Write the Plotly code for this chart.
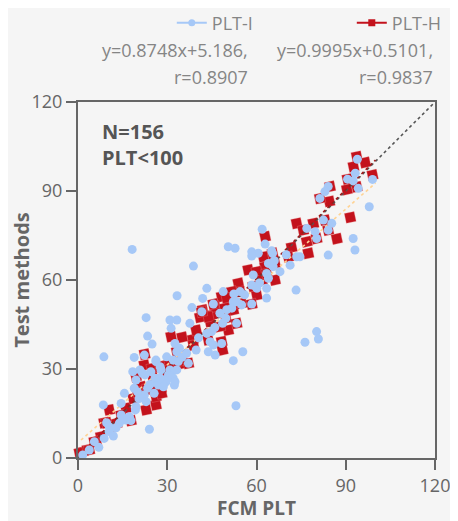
import plotly.graph_objects as go

# ---- data ----
plti_x = [1.6,3.8,5.5,7.0,8.8,10.5,11.9,9.6,10.5,8.5,13.9,14.5,16.1,17.8,14.5,15.6,19.3,18.9,22.3,23.4,24.0,20.0,21.7,26.2,22.9,25.6,19.5,17.3,29.6,27.9,31.3,32.4,26.2,24.5,18.4,19.5,
          18.2,38.8,33.3,41.9,38.3,22.9,30.9,33.2,37.6,31.3,23.4,24.9,8.7,18.9,22.3,26.2,29.8,34.1,39.7,43.3,43.3,
          45.5,48.8,52.4,41.6,47.7,49.7,48.6,44.9,53.3,32.6,44.4,45.5,48.3,43.8,46.1,52.2,33.2,36.5,37.1,32.0,33.7,30.9,33.2,27.6,30.4,32.0,28.7,20.8,22.5,25.9,27.0,28.7,32.6,
          61.9,50.5,52.8,58.4,60.6,58.4,62.9,65.1,65.4,64.0,65.6,67.9,71.3,73.5,63.4,64.0,58.9,58.4,60.1,63.4,63.4,52.2,51.7,53.3,54.5,
          73.3,58.4,55.0,80.2,80.8,76.3,55.4,53.1,
          93.9,93.2,90.6,92.5,94.2,99.0,97.9,85.3,84.1,83.0,81.3,82.5,84.1,79.7,76.9,80.2,74.6,84.1,92.5,93.1,
          12.8,15.2,20.5,24.2,27.5,35.0,40.5,46.0,50.0,56.0,61.0,66.0,70.0]
plti_y = [1.0,2.7,5.5,3.6,6.6,8.9,7.4,11.9,10.5,17.9,11.7,14.5,12.8,12.6,18.4,21.8,16.2,23.5,21.2,23.5,9.7,22.3,28.5,25.7,19.0,21.8,17.3,13.9,25.7,29.7,28.0,24.6,32.5,29.1,29.1,26.3,
          70.3,64.7,54.7,53.8,50.7,47.3,46.5,46.5,45.4,43.7,41.1,38.4,34.1,33.9,34.7,33.0,34.1,37.0,36.4,57.2,42.0,
          51.9,56.1,55.3,49.3,48.8,47.1,45.4,42.6,45.4,38.6,39.2,38.1,38.6,35.8,34.7,32.8,35.8,35.3,31.9,33.0,32.5,29.7,29.7,30.8,28.0,26.9,26.3,29.7,28.0,26.9,24.6,24.0,25.7,
          77.1,71.2,70.7,69.5,69.0,68.1,72.1,69.9,69.0,65.6,64.5,62.8,65.0,67.8,62.2,60.6,61.7,58.3,57.2,57.2,53.9,52.7,50.5,52.7,56.1,
          56.6,51.9,51.6,42.6,40.1,39.0,35.8,17.6,
          100.7,96.0,94.0,93.4,90.9,93.9,84.7,79.1,91.5,89.8,87.5,80.2,76.8,76.3,77.4,74.0,67.8,68.4,74.0,70.1,
          10.2,13.5,20.0,24.8,27.0,34.0,40.5,44.0,50.0,55.0,59.0,66.5,68.5]

plth_x = [1.6,0.5,8.8,7.7,10.5,16.1,19.5,22.9,26.2,22.3,25.1,27.9,22.9,26.2,29.6,30.1,6.1,11.6,21.2,
          31.3,35.0,38.6,41.0,41.9,22.4,39.7,44.4,44.9,48.3,51.7,50.5,47.7,38.8,48.3,48.6,33.2,35.4,24.8,25.3,
          13.0,18.6,28.1,43.8,3.2,
          62.9,71.8,73.5,70.7,62.3,62.9,66.2,66.2,57.2,60.1,61.8,53.9,54.5,51.7,50.0,46.1,43.8,49.4,52.2,55.0,60.1,58.9,
          93.7,96.5,92.6,99.0,90.6,93.7,90.4,84.7,84.5,81.3,79.1,83.0,75.7,87.0,91.5,76.9,77.4,
          3.8,5.5,9.6,14.5,17.8,20.0,23.4,27.6,30.9,33.7,37.1,41.6,45.5,49.7,53.3,58.4,63.4,65.4,80.2,84.1]
plth_y = [2.1,1.7,11.9,7.2,16.2,16.8,27.4,16.2,17.9,31.3,27.4,23.5,22.9,20.7,31.3,28.0,5.5,10.5,24.0,
          40.9,40.7,40.0,47.4,49.9,35.0,43.1,46.0,48.2,54.4,52.1,43.1,44.3,38.1,39.2,36.4,35.8,31.9,30.2,24.0,
          11.7,20.1,21.8,39.8,2.8,
          74.6,71.0,79.1,67.8,67.8,64.5,65.6,60.0,63.4,62.8,60.0,58.9,56.1,56.1,53.9,51.0,47.6,50.5,49.9,52.1,54.9,57.9,
          101.6,99.6,98.2,95.4,94.0,91.4,90.5,91.5,86.5,87.5,79.1,80.2,76.8,73.9,81.1,72.9,69.0,
          2.7,5.5,11.9,14.5,12.6,22.3,23.5,30.8,29.7,32.5,31.9,49.3,51.9,47.1,45.4,51.9,62.2,69.0,74.0,76.8]

fit_names = ["PLT-I", "PLT-H"]
fit_slope = [0.8748, 0.9995]
fit_intercept = [5.186, 0.5101]
fit_r = [0.8907, 0.9837]
fit_range = [1, 100]
identity_range = [0, 120]
tick_vals = [0, 30, 60, 90, 120]

BLUE = "#a6c8f7"
RED = "#c3121c"
FONT = "Open Sans"

fig = go.Figure()

# PLT-H squares
fig.add_trace(go.Scatter(
    x=plth_x, y=plth_y, mode="markers", showlegend=False, cliponaxis=False,
    marker=dict(symbol="square", size=10, color=RED, angle=-12,
                line=dict(color="rgba(240,150,150,0.6)", width=0.5))))

# identity line
fig.add_trace(go.Scatter(
    x=identity_range, y=identity_range, mode="lines", showlegend=False,
    line=dict(color="#555555", width=1.6, dash="dot")))

# regression lines
fx = fit_range
fig.add_trace(go.Scatter(
    x=fx, y=[fit_slope[0] * v + fit_intercept[0] for v in fx], mode="lines", showlegend=False,
    line=dict(color="#ffd394", width=1.6, dash="dot")))
fig.add_trace(go.Scatter(
    x=fx, y=[fit_slope[1] * v + fit_intercept[1] for v in fx], mode="lines", showlegend=False,
    line=dict(color="#9e1a1a", width=1.6, dash="dot")))

# PLT-I circles
fig.add_trace(go.Scatter(
    x=plti_x, y=plti_y, mode="markers", showlegend=False, cliponaxis=False,
    marker=dict(symbol="circle", size=9, color=BLUE, line=dict(width=0))))

# legend entries
fig.add_trace(go.Scatter(
    x=[None], y=[None], mode="lines+markers", name=fit_names[0], legend="legend",
    line=dict(color=BLUE, width=2), marker=dict(symbol="circle", size=7, color=BLUE)))
fig.add_trace(go.Scatter(
    x=[None], y=[None], mode="lines+markers", name=fit_names[1], legend="legend2",
    line=dict(color=RED, width=2), marker=dict(symbol="square", size=7, color=RED)))

ann = []
eq_right = [0.482, 1.0]
for i in range(2):
    ann.append(dict(xref="paper", yref="paper", x=eq_right[i], y=1.146, xanchor="right", yanchor="middle",
                    text=f"y={fit_slope[i]}x+{fit_intercept[i]},", showarrow=False,
                    font=dict(family=FONT, size=18, color="#858585")))
    ann.append(dict(xref="paper", yref="paper", x=eq_right[i], y=1.0702, xanchor="right", yanchor="middle",
                    text=f"r={fit_r[i]}", showarrow=False,
                    font=dict(family=FONT, size=18, color="#858585")))
ann.append(dict(xref="paper", yref="paper", x=0.062, y=0.9185, xanchor="left", yanchor="middle",
                text="<b>N=156</b>", showarrow=False, font=dict(family=FONT, size=20, color="#555555")))
ann.append(dict(xref="paper", yref="paper", x=0.062, y=0.8427, xanchor="left", yanchor="middle",
                text="<b>PLT&lt;100</b>", showarrow=False, font=dict(family=FONT, size=20, color="#555555")))

axis_common = dict(range=[0, 120], tickvals=tick_vals, showgrid=False, zeroline=False,
                   showline=True, linecolor="#666666", linewidth=2, mirror=True,
                   ticks="outside", ticklen=10, tickwidth=1.5, tickcolor="#666666",
                   automargin=False,
                   tickfont=dict(family=FONT, size=18, color="#666666"))

legend_common = dict(orientation="h", xref="container", yref="container", xanchor="left",
                     y=0.9705, yanchor="middle", bgcolor="rgba(0,0,0,0)", itemwidth=30,
                     font=dict(family=FONT, size=18, color="#858585"))

# page body has an 8px margin, so the figure is sized/offset to land on the window
fig.update_layout(
    width=450, height=513,
    margin=dict(l=70, r=23, t=94, b=63, autoexpand=False),
    paper_bgcolor="#f5f5f5", plot_bgcolor="#f5f5f5",
    xaxis=dict(axis_common, title=dict(text="<b>FCM PLT</b>", standoff=4,
                                       font=dict(family=FONT, size=19, color="#666666"))),
    yaxis=dict(axis_common, title=dict(text="<b>Test methods</b>", standoff=8,
                                       font=dict(family=FONT, size=20, color="#666666"))),
    legend=dict(legend_common, x=0.364),
    legend2=dict(legend_common, x=0.764),
    annotations=ann,
    showlegend=True,
)

fig.write_html("out.html")
